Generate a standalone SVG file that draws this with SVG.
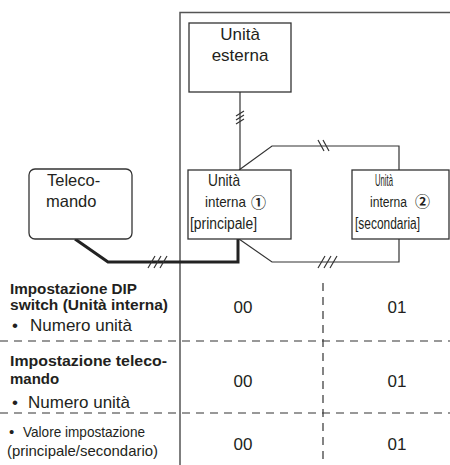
<svg xmlns="http://www.w3.org/2000/svg" width="450" height="465" viewBox="0 0 450 465">
<style>
.box{fill:#fff;stroke:#333;stroke-width:1.3}
.ln{fill:none;stroke:#333;stroke-width:1.2}
.thick{fill:none;stroke:#222;stroke-width:3}
.frame{fill:none;stroke:#555;stroke-width:1.5}
.dash{fill:none;stroke:#333;stroke-width:1.2;stroke-dasharray:8 6}
.t{font-family:"Liberation Sans",Arial,sans-serif;fill:#231f20}
.c{font-family:"Noto Sans CJK JP","DejaVu Sans",sans-serif;fill:#231f20;font-weight:bold;font-size:15px}
.b{font-weight:bold}
</style>
<rect width="450" height="465" fill="#fff"/>
<g id="frame">
<path class="frame" d="M180,465 V12.5 H450"/>
</g>
<g id="connectors">
<path class="ln" d="M240,92 V170"/>
<path class="ln" d="M236,116 L244,111 M236,120 L244,115 M236,124 L244,119"/>
<path class="ln" d="M239,170 L272,146 H399 V170"/>
<path class="ln" d="M318,140 L324,151 M323,140 L329,151"/>
<path class="ln" d="M239,239 L272,262 H399 V239"/>
<path class="ln" d="M318,268 L325,256 M324,268 L331,256 M330,268 L337,256"/>
<path class="thick" d="M75,239 L108,262 H238 V239"/>
<path class="ln" d="M148,268 L155,256 M154,268 L161,256 M160,268 L167,256"/>
</g>
<g id="outdoor">
<rect class="box" x="189" y="23" width="102" height="69"/>
<text class="t" x="240" y="40" font-size="17" text-anchor="middle">Unità</text>
<text class="t" x="240" y="61" font-size="17" text-anchor="middle">esterna</text>
</g>
<g id="remote">
<rect class="box" x="29" y="169" width="103" height="70" rx="6"/>
<text class="t" x="47" y="186" font-size="16.5">Teleco-</text>
<text class="t" x="46" y="207" font-size="16.5">mando</text>
</g>
<g id="indoor1">
<rect class="box" x="188" y="170" width="103" height="69"/>
<text class="t" x="208" y="186" font-size="17" textLength="32" lengthAdjust="spacingAndGlyphs">Unità</text>
<text class="t" x="205" y="207" font-size="14.5" textLength="41" lengthAdjust="spacingAndGlyphs">interna</text>
<text class="c" x="251" y="208">①</text>
<text class="t" x="190" y="229" font-size="16" textLength="67" lengthAdjust="spacingAndGlyphs">[principale]</text>
</g>
<g id="indoor2">
<rect class="box" x="352" y="170" width="97" height="69"/>
<text class="t" x="375" y="186" font-size="17" textLength="18" lengthAdjust="spacingAndGlyphs">Unità</text>
<text class="t" x="370" y="207" font-size="14" textLength="37" lengthAdjust="spacingAndGlyphs">interna</text>
<text class="c" x="415" y="207">②</text>
<text class="t" x="355" y="229" font-size="16" textLength="65" lengthAdjust="spacingAndGlyphs">[secondaria]</text>
</g>
<g id="table">
<path class="dash" d="M0,341 H450 M0,413 H450"/>
<path class="dash" d="M323,283 V465"/>
<text class="t b" x="10" y="294" font-size="14.5" textLength="127" lengthAdjust="spacingAndGlyphs">Impostazione DIP</text>
<text class="t b" x="10" y="310" font-size="14.5" textLength="158" lengthAdjust="spacingAndGlyphs">switch (Unità interna)</text>
<text class="t" x="12" y="331" font-size="17">•</text>
<text class="t" x="30" y="331" font-size="17">Numero unità</text>
<text class="t" x="243" y="313" font-size="17" text-anchor="middle">00</text>
<text class="t" x="397" y="313" font-size="17" text-anchor="middle">01</text>
<text class="t b" x="10" y="366" font-size="15" textLength="157" lengthAdjust="spacingAndGlyphs">Impostazione teleco-</text>
<text class="t b" x="10" y="384" font-size="15">mando</text>
<text class="t" x="12" y="408" font-size="17">•</text>
<text class="t" x="28" y="408" font-size="17">Numero unità</text>
<text class="t" x="243" y="387" font-size="17" text-anchor="middle">00</text>
<text class="t" x="397" y="387" font-size="17" text-anchor="middle">01</text>
<text class="t" x="9" y="437" font-size="15">•</text>
<text class="t" x="23" y="437" font-size="15" textLength="122" lengthAdjust="spacingAndGlyphs">Valore impostazione</text>
<text class="t" x="7" y="456" font-size="15" textLength="151" lengthAdjust="spacingAndGlyphs">(principale/secondario)</text>
<text class="t" x="243" y="450" font-size="17" text-anchor="middle">00</text>
<text class="t" x="397" y="450" font-size="17" text-anchor="middle">01</text>
</g>
</svg>
